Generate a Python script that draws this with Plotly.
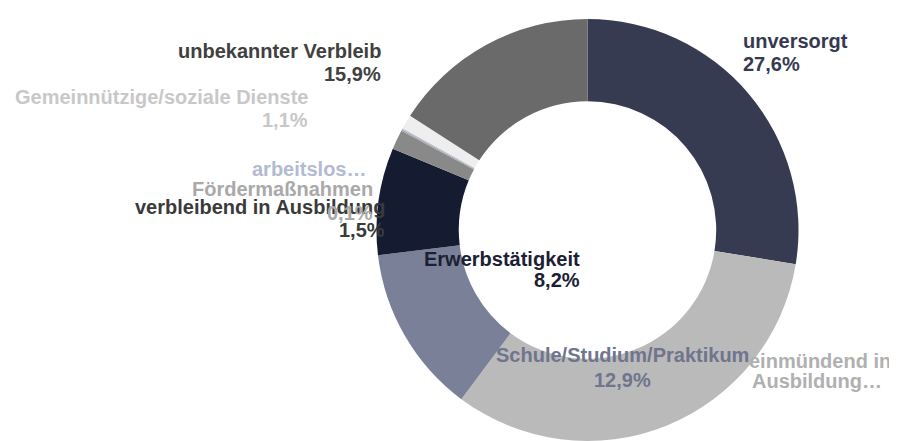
import plotly.graph_objects as go

# The page body has an 8px default margin, so the figure is drawn 8px in
# from the top-left corner; sizes and positions below are in page pixels.
OFF = 8
W, H = 897 - OFF, 441 - OFF

categories = ["unversorgt", "einmündend in Ausbildung", "Schule/Studium/Praktikum",
              "Erwerbstätigkeit", "verbleibend in Ausbildung", "Fördermaßnahmen",
              "arbeitslos", "Gemeinnützige/soziale Dienste", "unbekannter Verbleib"]
values = [27.6, 32.6, 12.9, 8.2, 1.5, 0.1, 0.1, 1.1, 15.9]
slice_colors = ["#363b51", "#bababa", "#7a8098", "#151b31", "#898989",
                "#a6a6a6", "#b4bdd2", "#eeeeee", "#6a6a6a"]
label_colors = ["#353a50", "#b0b0b0", "#6e758d", "#1b2034", "#3a3a3a",
                "#a9a9a9", "#b3bbd1", "#c8c8c8", "#404040"]
# displayed label lines (some are truncated in the original)
label_lines = [
    ["unversorgt", None],
    ["einmündend in", "Ausbildung…"],
    ["Schule/Studium/Praktikum", None],
    ["Erwerbstätigkeit", None],
    ["verbleibend in Ausbildung", None],
    ["Fördermaßnahmen", None],
    ["arbeitslos…", ""],
    ["Gemeinnützige/soziale Dienste", None],
    ["unbekannter Verbleib", None],
]
source_text = "Datenquelle: Statistisches Landesamt"

def pct(v):
    return f"{v:.1f}".replace(".", ",") + "%"

# label anchor in page px: (x1, y1, x2, y2, xanchor)
label_pos = [
    (741, 41, 741, 64, "left"),
    (820, 361, 817, 381, "center"),
    (622, 355, 622, 380, "center"),
    (582, 259, 582, 280, "right"),
    (387, 207, 387, 230, "right"),
    (375, 189, 375, 213, "right"),
    (368, 169, None, None, "right"),
    (310, 97, 310, 120, "right"),
    (383, 51, 383, 74, "right"),
]

# donut geometry in page px
cx, cy, R = 587.5, 230, 211
fx, fy = cx - OFF, cy - OFF
fig = go.Figure(go.Pie(
    labels=categories, values=values, sort=False, direction="clockwise",
    rotation=0, hole=0.61, textinfo="none", hoverinfo="label+percent",
    marker=dict(colors=slice_colors, line=dict(width=0)),
    domain=dict(x=[(fx - R) / W, (fx + R) / W],
                y=[max(0, (H - fy - R) / H), min(1, (H - fy + R) / H)]),
    showlegend=False,
))

font_family = "Liberation Sans, Arial, sans-serif"
anns = []
for i in range(len(categories)):
    x1, y1, x2, y2, xa = label_pos[i]
    l1, l2 = label_lines[i]
    if l2 is None:
        l2 = pct(values[i])
    lines = [(l1, x1, y1)]
    if y2 is not None and l2:
        lines.append((l2, x2, y2))
    for txt, xx, yy in lines:
        anns.append(dict(
            text=txt, x=(xx - OFF) / W, y=1 - (yy - OFF) / H, xref="paper", yref="paper",
            xanchor=xa, yanchor="middle", showarrow=False,
            font=dict(family=font_family, size=20, color=label_colors[i], weight="bold"),
        ))

anns.append(dict(text=source_text, x=(757 - OFF) / W, y=1 - (437 - OFF) / H,
                 xref="paper", yref="paper",
                 xanchor="left", yanchor="top", showarrow=False,
                 font=dict(family=font_family, size=14, color="#000000")))

fig.update_layout(
    width=W, height=H, margin=dict(l=0, r=0, t=0, b=0),
    paper_bgcolor="white", plot_bgcolor="white",
    annotations=anns,
)
fig.write_html("out.html")
